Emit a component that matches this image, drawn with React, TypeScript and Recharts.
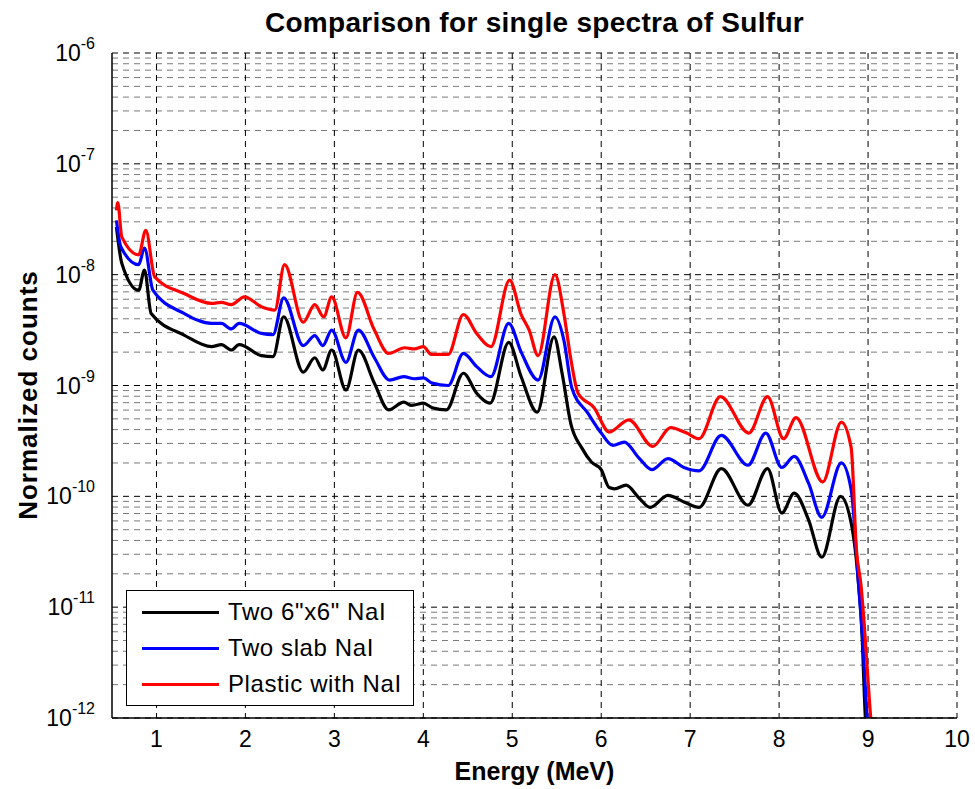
import { LineChart, Line, XAxis, YAxis, CartesianGrid, Legend } from 'recharts';

const FONT = '"Liberation Sans", Arial, Helvetica, sans-serif';

// energy axis ticks (MeV)
const energyTicks = [1, 2, 3, 4, 5, 6, 7, 8, 9, 10];
// decades shown on the log axis
const decades = [1e-12, 1e-11, 1e-10, 1e-9, 1e-8, 1e-7, 1e-6];
const minorSteps = [2, 3, 4, 5, 6, 7, 8, 9];

const seriesNames = ['Two 6"x6" NaI', 'Two slab NaI', 'Plastic with NaI'];

// Two 6"x6" NaI (black)
const twoNaiEnergy = [
    0.55, 0.61, 0.8, 0.865, 0.94, 1.31, 1.62, 1.73, 1.84, 1.93, 2.18, 2.31, 2.43, 2.65, 2.78,
    2.87, 2.97, 3.13, 3.27, 3.45, 3.61, 3.78, 3.87, 4.0, 4.1, 4.26, 4.45, 4.6, 4.75, 4.96, 5.1,
    5.28, 5.47, 5.56, 5.66, 5.78, 5.89, 6.0, 6.09, 6.15, 6.28, 6.42, 6.55, 6.75, 6.93, 7.1,
    7.35, 7.65, 7.87, 8.03, 8.17, 8.33, 8.48, 8.69, 8.81, 8.89, 8.93, 8.97, 9.0,
];
const twoNaiCounts = [
    2.69e-8, 1.27e-8, 7.24e-9, 1.1e-8, 4.47e-9, 2.85e-9, 2.24e-9, 2.34e-9, 2.09e-9, 2.34e-9,
    1.86e-9, 1.82e-9, 4.17e-9, 1.32e-9, 1.78e-9, 1.38e-9, 2.09e-9, 9.12e-10, 2.09e-9, 1.05e-9,
    6.03e-10, 7.08e-10, 6.61e-10, 6.92e-10, 6.31e-10, 6.03e-10, 1.29e-9, 8.51e-10, 6.92e-10,
    2.45e-9, 1.2e-9, 5.75e-10, 2.75e-9, 1.29e-9, 4.47e-10, 2.75e-10, 2.04e-10, 1.74e-10,
    1.2e-10, 1.17e-10, 1.26e-10, 9.77e-11, 7.94e-11, 1.02e-10, 8.91e-11, 7.94e-11, 1.78e-10,
    8.32e-11, 1.78e-10, 7.08e-11, 1.07e-10, 6.17e-11, 2.82e-11, 1.0e-10, 5.75e-11, 1.74e-11,
    6.2e-12, 1.0e-12, 5e-13,
];

// Two slab NaI (blue)
const slabEnergy = [
    0.55, 0.6, 0.8, 0.865, 0.96, 1.31, 1.62, 1.73, 1.84, 1.93, 2.18, 2.31, 2.43, 2.65, 2.78,
    2.87, 2.97, 3.13, 3.27, 3.45, 3.62, 3.78, 3.9, 4.0, 4.1, 4.28, 4.45, 4.6, 4.76, 4.96, 5.1,
    5.29, 5.48, 5.58, 5.67, 5.85, 6.0, 6.13, 6.26, 6.42, 6.57, 6.75, 6.93, 7.1, 7.35, 7.65,
    7.85, 8.03, 8.17, 8.33, 8.48, 8.7, 8.81, 8.89, 8.94, 8.99, 9.02,
];
const slabCounts = [
    3.09e-8, 1.78e-8, 1.23e-8, 1.74e-8, 7.24e-9, 4.47e-9, 3.63e-9, 3.63e-9, 3.24e-9, 3.63e-9,
    2.95e-9, 2.88e-9, 6.17e-9, 2.29e-9, 2.82e-9, 2.29e-9, 3.16e-9, 1.62e-9, 3.16e-9, 1.78e-9,
    1.12e-9, 1.2e-9, 1.15e-9, 1.17e-9, 1.05e-9, 1.0e-9, 1.95e-9, 1.48e-9, 1.2e-9, 3.63e-9,
    2.0e-9, 1.12e-9, 4.17e-9, 2.57e-9, 9.5e-10, 5.62e-10, 3.72e-10, 2.88e-10, 3.09e-10,
    2.24e-10, 1.74e-10, 2.19e-10, 1.82e-10, 1.7e-10, 3.55e-10, 1.91e-10, 3.72e-10, 1.82e-10,
    2.29e-10, 1.32e-10, 6.46e-11, 2.0e-10, 1.15e-10, 1.74e-11, 5e-12, 1.0e-12, 5e-13,
];

// Plastic with NaI (red)
const plasticEnergy = [
    0.55, 0.565, 0.61, 0.8, 0.88, 0.98, 1.31, 1.62, 1.73, 1.84, 1.99, 2.18, 2.33, 2.44, 2.65,
    2.78, 2.88, 2.97, 3.13, 3.26, 3.45, 3.61, 3.79, 3.9, 4.0, 4.09, 4.28, 4.45, 4.6, 4.76,
    4.97, 5.1, 5.19, 5.29, 5.48, 5.58, 5.66, 5.74, 5.92, 6.09, 6.31, 6.58, 6.78, 6.96, 7.1,
    7.34, 7.66, 7.87, 8.05, 8.19, 8.49, 8.7, 8.81, 8.87, 8.92, 9.03, 9.06,
];
const plasticCounts = [
    3.8e-8, 4.47e-8, 2.19e-8, 1.51e-8, 2.51e-8, 9.55e-9, 6.76e-9, 5.5e-9, 5.62e-9, 5.37e-9,
    6.31e-9, 5.13e-9, 4.79e-9, 1.23e-8, 3.72e-9, 5.37e-9, 4.17e-9, 6.31e-9, 2.69e-9, 6.92e-9,
    3.16e-9, 1.95e-9, 2.19e-9, 2.14e-9, 2.24e-9, 1.91e-9, 1.91e-9, 4.37e-9, 2.95e-9, 2.24e-9,
    8.91e-9, 4.37e-9, 3.16e-9, 1.86e-9, 1.0e-8, 4.47e-9, 1.7e-9, 8.51e-10, 6.31e-10, 3.8e-10,
    4.9e-10, 2.82e-10, 4.17e-10, 3.72e-10, 3.31e-10, 7.94e-10, 3.72e-10, 7.94e-10, 3.31e-10,
    5.13e-10, 1.35e-10, 4.68e-10, 2.75e-10, 3.24e-11, 1.6e-11, 1.0e-12, 5e-13,
];

const toPoints = (es: number[], vs: number[]) => es.map((e, i) => ({ e, v: vs[i] }));

const minorTicks = decades.slice(0, -1).flatMap((d) => minorSteps.map((m) => m * d));
const allYTicks = [...decades, ...minorTicks].sort((a, b) => a - b);

const DecadeTick = (props: any) => {
    const { x, y, payload } = props;
    const v = payload.value;
    const exp = Math.round(Math.log10(v));
    if (Math.abs(v - Math.pow(10, exp)) / v > 1e-6) return null;
    return (
        <text x={x} y={y + 8} textAnchor="end" fill="#000" fontFamily={FONT} fontSize={23}>
            <tspan>10</tspan>
            <tspan dy={-12} fontSize={16}>{exp}</tspan>
        </text>
    );
};

const LegendBox = (props: any) => {
    const items = [...(props.payload || [])].sort(
        (a: any, b: any) => seriesNames.indexOf(a.value) - seriesNames.indexOf(b.value),
    );
    return (
        <div
            style={{
                width: 288,
                height: 116,
                boxSizing: 'border-box',
                border: '1px solid #000',
                background: '#fff',
                paddingTop: 3,
                fontFamily: FONT,
            }}
        >
            {items.map((it: any) => (
                <div key={it.value} style={{ display: 'flex', alignItems: 'center', height: 36 }}>
                    <div style={{ marginLeft: 15, width: 77, height: 3, background: it.color }} />
                    <span style={{ marginLeft: 9, fontSize: 24, letterSpacing: 0.6, color: '#000' }}>
                        {it.value}
                    </span>
                </div>
            ))}
        </div>
    );
};

export default function App() {
    return (
        <div style={{ position: 'absolute', left: 0, top: 0, width: 975, height: 789, background: '#fff' }}>
            <LineChart width={975} height={789} margin={{ top: 53, right: 18, bottom: 31, left: 12 }}>
                <CartesianGrid
                    horizontalValues={minorTicks}
                    vertical={false}
                    stroke="#7a7a7a"
                    strokeDasharray="6 5"
                />
                <CartesianGrid
                    horizontalValues={decades}
                    verticalValues={energyTicks}
                    stroke="#000"
                    strokeDasharray="6 5"
                />
                <XAxis
                    dataKey="e"
                    type="number"
                    domain={[0.5, 10]}
                    ticks={energyTicks}
                    allowDataOverflow
                    height={40}
                    tickSize={0}
                    tickMargin={13}
                    axisLine={{ stroke: '#000', strokeWidth: 1.5 }}
                    tick={{ fill: '#000', fontSize: 23, fontFamily: FONT }}
                />
                <XAxis
                    xAxisId="top"
                    orientation="top"
                    type="number"
                    domain={[0.5, 10]}
                    height={0}
                    tick={false}
                    tickLine={false}
                    axisLine={{ stroke: '#000', strokeWidth: 1.5 }}
                />
                <YAxis
                    dataKey="v"
                    scale="log"
                    domain={[1e-12, 1e-6]}
                    ticks={allYTicks}
                    allowDataOverflow
                    width={100}
                    tickSize={0}
                    tickMargin={17}
                    interval={0}
                    axisLine={{ stroke: '#000', strokeWidth: 1.5 }}
                    tick={<DecadeTick />}
                />
                <YAxis
                    yAxisId="right"
                    orientation="right"
                    width={0}
                    tick={false}
                    tickLine={false}
                    axisLine={{ stroke: '#000', strokeWidth: 1.5 }}
                />
                <Legend
                    layout="vertical"
                    verticalAlign="middle"
                    align="center"
                    content={<LegendBox />}
                    wrapperStyle={{ left: 126, top: 590, width: 288 }}
                />
                <Line
                    data={toPoints(twoNaiEnergy, twoNaiCounts)}
                    dataKey="v"
                    name={seriesNames[0]}
                    type="monotone"
                    stroke="#000000"
                    strokeWidth={3.2}
                    dot={false}
                    isAnimationActive={false}
                />
                <Line
                    data={toPoints(slabEnergy, slabCounts)}
                    dataKey="v"
                    name={seriesNames[1]}
                    type="monotone"
                    stroke="#0000ff"
                    strokeWidth={3.2}
                    dot={false}
                    isAnimationActive={false}
                />
                <Line
                    data={toPoints(plasticEnergy, plasticCounts)}
                    dataKey="v"
                    name={seriesNames[2]}
                    type="monotone"
                    stroke="#ff0000"
                    strokeWidth={3.2}
                    dot={false}
                    isAnimationActive={false}
                />
            </LineChart>
            <div
                style={{
                    position: 'absolute', left: 112, top: 9, width: 845, textAlign: 'center',
                    fontFamily: FONT, fontWeight: 'bold', fontSize: 28, letterSpacing: 0.3,
                    lineHeight: '28px', color: '#000',
                }}
            >
                Comparison for single spectra of Sulfur
            </div>
            <div
                style={{
                    position: 'absolute', left: 112, top: 759, width: 845, textAlign: 'center',
                    fontFamily: FONT, fontWeight: 'bold', fontSize: 25, lineHeight: '25px', color: '#000',
                }}
            >
                Energy (MeV)
            </div>
            <div
                style={{
                    position: 'absolute', left: 28 - 150, top: 395 - 13, width: 300, textAlign: 'center',
                    fontFamily: FONT, fontWeight: 'bold', fontSize: 26, letterSpacing: 1,
                    lineHeight: '26px', color: '#000', transform: 'rotate(-90deg)',
                }}
            >
                Normalized counts
            </div>
        </div>
    );
}
